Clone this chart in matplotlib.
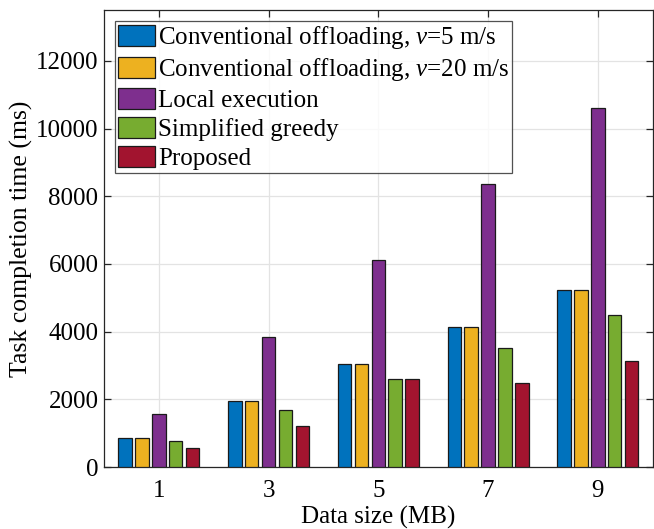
import matplotlib
matplotlib.use("Agg")
import matplotlib.pyplot as plt
import numpy as np

plt.rcParams['font.family'] = ['Liberation Serif', 'DejaVu Serif']
plt.rcParams['mathtext.fontset'] = 'custom'
plt.rcParams['mathtext.rm'] = 'Liberation Serif'
plt.rcParams['mathtext.it'] = 'Liberation Serif:italic'

data_sizes = [1, 3, 5, 7, 9]
series_labels = [
    "Conventional offloading, $\\mathit{v}$=5 m/s",
    "Conventional offloading, $\\mathit{v}$=20 m/s",
    "Local execution",
    "Simplified greedy",
    "Proposed",
]
conv_v5 = [860, 1960, 3050, 4150, 5240]
conv_v20 = [860, 1950, 3050, 4150, 5230]
local_exec = [1580, 3840, 6110, 8360, 10620]
simp_greedy = [760, 1700, 2600, 3530, 4480]
proposed = [560, 1200, 2600, 2470, 3120]
series = [conv_v5, conv_v20, local_exec, simp_greedy, proposed]
colors = ['#0072BD', '#EDB120', '#7E2F8E', '#77AC30', '#A2142F']

fig = plt.figure(figsize=(6.54, 5.29), dpi=100)
ax = fig.add_axes([0.159, 0.117, 0.839, 0.864])

x = np.array(data_sizes, dtype=float)
spacing = 2.0
group_w = spacing * 5 / 6.5
slot = group_w / 5
bw = slot * 0.8
for i, (vals, c, lab) in enumerate(zip(series, colors, series_labels)):
    ax.bar(x + (i - 2) * slot, vals, width=bw, color=c, edgecolor='#1a1a1a',
           linewidth=0.9, label=lab, zorder=3)

ax.set_xlim(0, 10)
ax.set_ylim(0, 13500)
ax.set_xticks(data_sizes)
ax.set_yticks(np.arange(0, 12001, 2000))
ax.grid(True, color='#e3e3e3', linewidth=0.9, zorder=0)
ax.set_axisbelow(True)
ax.tick_params(direction='in', top=True, right=True, labelsize=18, colors='#262626',
               length=5, width=0.9, labelcolor='black')
ax.tick_params(axis='x', pad=9)
ax.tick_params(axis='y', pad=4)
for s in ax.spines.values():
    s.set_color('#262626')
    s.set_linewidth(0.9)

ax.set_xlabel('Data size (MB)', fontsize=18, labelpad=3)
ax.set_ylabel('Task completion time (ms)', fontsize=18.5, labelpad=2)

leg = ax.legend(loc='upper left', fontsize=18, frameon=True, fancybox=False,
                edgecolor='#262626', borderpad=0.12, labelspacing=0.2,
                handlelength=1.48, handleheight=0.9, handletextpad=0.12,
                borderaxespad=0.45)
leg.get_frame().set_linewidth(0.9)

fig.savefig('out.png', dpi=100)
